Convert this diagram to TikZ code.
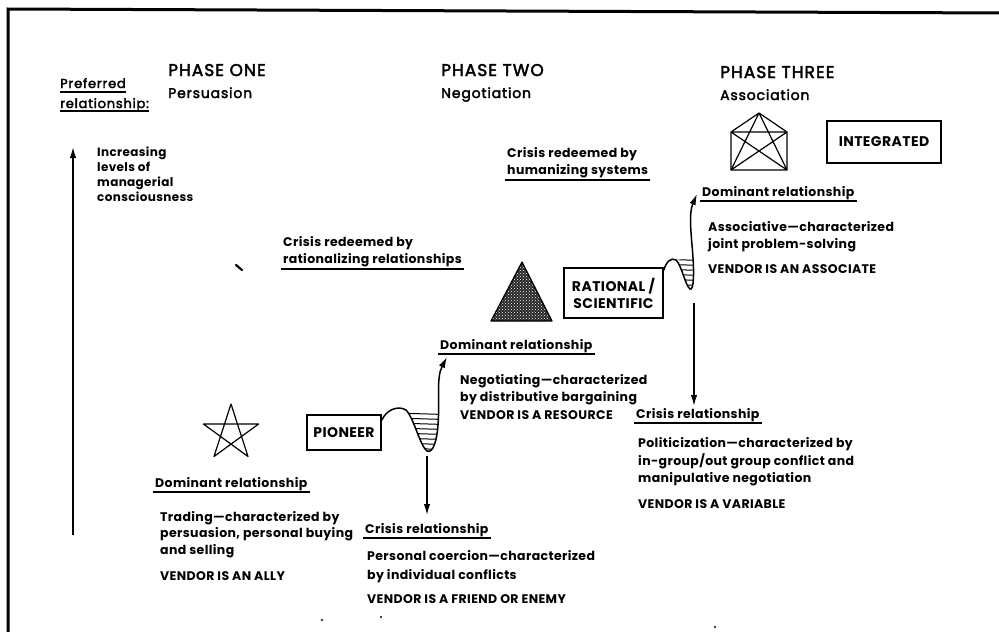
\documentclass[tikz,border=0pt]{standalone}
\usepackage{fontspec}
\setmainfont{Poppins}[LetterSpace=3]
\newfontfamily\headfont{Poppins}[FakeBold=2.5,LetterSpace=6]
\usetikzlibrary{arrows.meta,patterns}
\begin{document}
\begin{tikzpicture}[x=1pt,y=-1pt,
  body/.style={anchor=base west, inner sep=0pt, font=\fontsize{12.5}{15}\selectfont\bfseries},
  small/.style={anchor=base west, inner sep=0pt, font=\fontsize{12}{14}\selectfont\bfseries},
  head/.style={anchor=base west, inner sep=0pt, font=\headfont\fontsize{17}{19}\selectfont},
  sub/.style={anchor=base west, inner sep=0pt, font=\headfont\fontsize{14}{16}\selectfont},
  pref/.style={anchor=base west, inner sep=0pt, font=\headfont\fontsize{13}{15}\selectfont},
  boxed/.style={draw, line width=1.8pt, inner sep=0pt, align=center, font=\fontsize{14}{17}\selectfont\bfseries},
  ul/.style={line width=1.6pt},
  arr/.style={line width=1.5pt, -{Latex[length=11pt,width=6.5pt]}},
  fig/.style={line width=1.2pt, line join=round},
]
\useasboundingbox (0,0) rectangle (999,632);
\clip (0,0) rectangle (999,632);
\fill[white] (0,0) rectangle (999,632);
% frame
\draw[line width=3pt] (8,640) -- (8,9) -- (1005,13);

% headings
\node[head] (p1) at (168,76) {PHASE ONE};
\node[sub] (p1s) at (168,98) {Persuasion};
\node[head] (p2) at (441,76) {PHASE TWO};
\node[sub] (p2s) at (441,98) {Negotiation};
\node[head] (p3) at (720,78) {PHASE THREE};
\node[sub] (p3s) at (720,100) {Association};
\node[pref] (pref) at (60,88) {Preferred};
\node[pref] (prel) at (60,108) {relationship:};
\draw[ul] ([yshift=-4pt]pref.base west) -- ([yshift=-4pt]pref.base east);
\draw[ul] ([yshift=-3pt]prel.base west) -- ([yshift=-3pt]prel.base east);

% left arrow
\coordinate (la0) at (73,535);
\coordinate (la1) at (73,147);
\draw[arr] (la0) -- (la1);
\node[small] (inc1) at (97,156) {Increasing};
\node[small] (inc2) at (97,171) {levels of};
\node[small] (inc3) at (97,186) {managerial};
\node[small] (inc4) at (97,201) {consciousness};

% crisis redeemed texts
\node[body] (hum1) at (507,157) {Crisis redeemed by};
\node[body] (hum2) at (507,174) {humanizing systems};
\draw[ul] ([xshift=-2pt,yshift=-6pt]hum2.base west) -- ([xshift=2pt,yshift=-6pt]hum2.base east);
\node[body] (rat1) at (283,246) {Crisis redeemed by};
\node[body] (rat2) at (283,263) {rationalizing relationships};
\draw[ul] ([xshift=-2pt,yshift=-6pt]rat2.base west) -- ([xshift=2pt,yshift=-6pt]rat2.base east);
\draw[line width=2.2pt, line cap=round] (236,265) -- (242,270);

% phase three figure
\coordinate (k1) at (759,113);
\coordinate (k2) at (787,132);
\coordinate (k3) at (787,170);
\coordinate (k4) at (731,170);
\coordinate (k5) at (731,132);
\draw[fig] (k1)--(k2)--(k3)--(k4)--(k5)--cycle;
\draw[fig] (k1)--(k3) (k1)--(k4) (k2)--(k4) (k2)--(k5) (k3)--(k5);
\node[boxed, minimum width=114pt, minimum height=42pt] (integ) at (884,142) {INTEGRATED};

% phase two figure
\coordinate (t1) at (522,262);
\coordinate (t2) at (552,321);
\coordinate (t3) at (491,321);
\fill[black!85] (t1)--(t2)--(t3)--cycle;
\fill[pattern=crosshatch dots, pattern color=white] (t1)--(t2)--(t3)--cycle;
\draw[line width=1.2pt, line join=round] (t1)--(t2)--(t3)--cycle;
\node[boxed, minimum width=99pt, minimum height=50pt] (rat) at (613.5,293) {RATIONAL /\\SCIENTIFIC};

% phase one figure
\coordinate (s0) at (231,404);
\coordinate (s1) at (258.6,424);
\coordinate (s2) at (248,456.5);
\coordinate (s3) at (214,456.5);
\coordinate (s4) at (203.4,424);
\draw[fig] (s0)--(s2)--(s4)--(s1)--(s3)--cycle;
\node[boxed, minimum width=74pt, minimum height=35pt] (pio) at (344,432.5) {PIONEER};

% funnel phase two -> three
\coordinate (d3a) at (697,194);
\draw[arr] ([yshift=-3pt]rat.north east) .. controls (666,262) and (671,257) .. (676,260)
  .. controls (682,266) and (685,285) .. (690,289)
  .. controls (694,291) and (694,272) .. (693,258)
  .. controls (692,240) and (688,215) .. (d3a);
\begin{scope}
\clip (676,260) .. controls (682,266) and (685,285) .. (690,289)
  .. controls (694,291) and (694,272) .. (693,258) -- cycle;
\foreach \yy in {259,264,269,274,279,284,289} \draw[line width=1pt] (660,\yy) -- (700,\yy+1.5);
\end{scope}
\coordinate (c3a) at (694,303);
\coordinate (c3b) at (694,406);
\draw[arr] (c3a) -- (c3b);

% funnel phase one -> two
\coordinate (d2a) at (447,357);
\draw[arr] ([yshift=-6pt]pio.north east) .. controls (386,410) and (398,405) .. (406,410)
  .. controls (414,418) and (420,446) .. (427,451)
  .. controls (433,454) and (437,440) .. (438,425)
  .. controls (440,400) and (436,378) .. (d2a);
\begin{scope}
\clip (406,410) .. controls (414,418) and (420,446) .. (427,451)
  .. controls (433,454) and (437,440) .. (438,425) -- (438,408) -- cycle;
\foreach \yy in {413,418,423,428,433,438,443,448} \draw[line width=1pt] (395,\yy) -- (445,\yy+1.5);
\end{scope}
\coordinate (c2a) at (427,456);
\coordinate (c2b) at (427,515);
\draw[arr] (c2a) -- (c2b);

% phase three texts
\node[body] (dom3) at (702,196) {Dominant relationship};
\draw[ul] ([xshift=-2pt,yshift=-5pt]dom3.base west) -- ([xshift=2pt,yshift=-5pt]dom3.base east);
\node[body] (as1) at (708,231) {Associative---characterized};
\node[body] (as2) at (708,248) {joint problem-solving};
\node[body] (as3) at (708,273) {VENDOR IS AN ASSOCIATE};
\node[body] (cr3) at (636,418) {Crisis relationship};
\draw[ul] ([xshift=-2pt,yshift=-5pt]cr3.base west) -- ([xshift=2pt,yshift=-5pt]cr3.base east);
\node[body] (po1) at (638,447) {Politicization---characterized by};
\node[body] (po2) at (638,465) {in-group/out group conflict and};
\node[body] (po3) at (638,482) {manipulative negotiation};
\node[body] (po4) at (638,508) {VENDOR IS A VARIABLE};

% phase two texts
\node[body] (dom2) at (440,349) {Dominant relationship};
\draw[ul] ([xshift=-2pt,yshift=-5pt]dom2.base west) -- ([xshift=2pt,yshift=-5pt]dom2.base east);
\node[body] (ne1) at (460,384) {Negotiating---characterized};
\node[body] (ne2) at (460,401) {by distributive bargaining};
\node[body] (ne3) at (460,419) {VENDOR IS A RESOURCE};
\node[body] (cr2) at (365,533) {Crisis relationship};
\draw[ul] ([xshift=-2pt,yshift=-5pt]cr2.base west) -- ([xshift=2pt,yshift=-5pt]cr2.base east);
\node[body] (pc1) at (367,560) {Personal coercion---characterized};
\node[body] (pc2) at (367,579) {by individual conflicts};
\node[body] (pc3) at (367,603) {VENDOR IS A FRIEND OR ENEMY};

% phase one texts
\node[body] (dom1) at (155,487) {Dominant relationship};
\draw[ul] ([xshift=-2pt,yshift=-5pt]dom1.base west) -- ([xshift=2pt,yshift=-5pt]dom1.base east);
\node[body] (tr1) at (160,521) {Trading---characterized by};
\node[body] (tr2) at (160,537) {persuasion, personal buying};
\node[body] (tr3) at (160,554) {and selling};
\node[body] (tr4) at (160,580) {VENDOR IS AN ALLY};

% specks
\fill (322,620) circle (1.2);
\fill (381,617) circle (1.2);
\fill (715,627) circle (1.2);
\end{tikzpicture}
\end{document}
